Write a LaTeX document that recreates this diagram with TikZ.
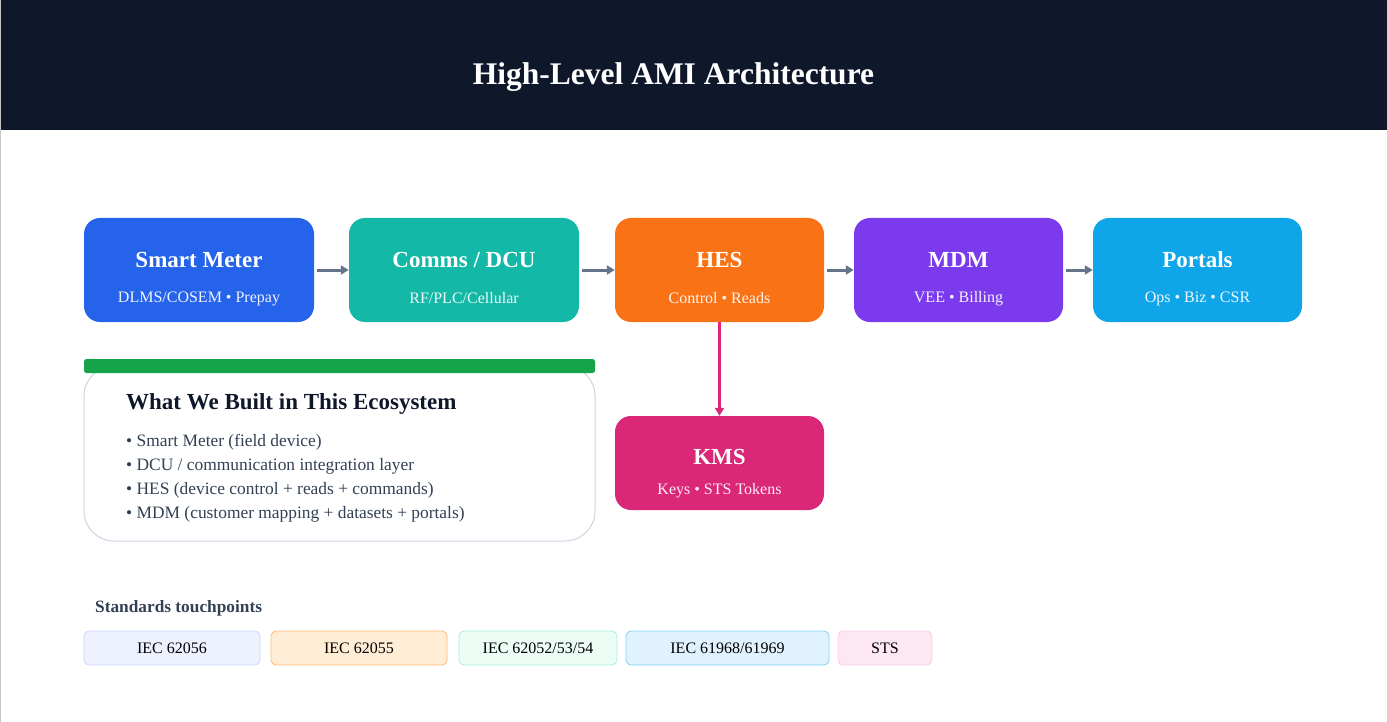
\documentclass[tikz,border=0pt]{standalone}
\usepackage{fontspec}
\setmainfont{Liberation Serif}
\usetikzlibrary{arrows.meta, positioning, calc}
\definecolor{ink}{HTML}{0F172A}
\definecolor{slatetext}{HTML}{334155}
\definecolor{slateline}{HTML}{CBD5E1}
\definecolor{flowgray}{HTML}{64748B}
\definecolor{meterblue}{HTML}{2563EB}
\definecolor{commsteal}{HTML}{14B8A6}
\definecolor{hesorange}{HTML}{F97316}
\definecolor{mdmpurple}{HTML}{7C3AED}
\definecolor{portalsky}{HTML}{0EA5E9}
\definecolor{kmspink}{HTML}{DB2777}
\definecolor{builtgreen}{HTML}{16A34A}
\definecolor{chipafill}{HTML}{EEF2FF}\definecolor{chipaline}{HTML}{C7D2FE}
\definecolor{chipbfill}{HTML}{FFEDD5}\definecolor{chipbline}{HTML}{FDBA74}
\definecolor{chipcfill}{HTML}{ECFDF5}\definecolor{chipcline}{HTML}{A7F3D0}
\definecolor{chipdfill}{HTML}{E0F2FE}\definecolor{chipdline}{HTML}{7DD3FC}
\definecolor{chipefill}{HTML}{FCE7F3}\definecolor{chipeline}{HTML}{FBCFE8}
\tikzset{
  card/.style={rounded corners=16pt, minimum height=104pt, inner sep=0pt},
  cardtitle/.style={text=white, font=\fontsize{23}{27}\selectfont\bfseries},
  cardsub/.style={text=white, text opacity=0.92, font=\fontsize{16}{19}\selectfont},
  flow/.style={flowgray, line width=3pt, shorten <=3pt, -{Triangle[length=8pt, width=9pt]}},
  chip/.style={rounded corners=5pt, minimum height=34pt, inner sep=0pt, line width=0.8pt,
    font=\fontsize{16}{19}\selectfont},
}
\begin{document}
\begin{tikzpicture}[x=1pt, y=-1pt]
  \useasboundingbox (0,0) rectangle (1387,722);
  \fill[ink] (1,0) rectangle (1387,130);
  \draw[gray!45, line width=1pt] (0.5,0) -- (0.5,722);
  \node[text=white, font=\fontsize{31.5}{37}\selectfont\bfseries] (title) at (673.5,77)
    {High-Level AMI Architecture};

  \foreach \n/\x/\w/\c/\t/\s in {
    meter/199/230/meterblue/{Smart Meter}/{DLMS/COSEM • Prepay},
    comms/464/230/commsteal/{Comms / DCU}/{RF/PLC/Cellular},
    hes/719.5/209/hesorange/{HES}/{Control • Reads},
    mdm/958.5/209/mdmpurple/{MDM}/{VEE • Billing},
    portals/1197.5/209/portalsky/{Portals}/{Ops • Biz • CSR}
  } {
    \node[card, fill=\c, minimum width=\w pt] (\n) at (\x,270) {};
    \node[cardtitle] (\n title) at (\x,260) {\t};
    \node[cardsub] (\n sub) at (\x,298.5) {\s};
  }
  \node[card, fill=kmspink, minimum width=209pt, minimum height=94pt] (kms) at (719.5,463) {};
  \node[cardtitle] (kms title) at (719.5,457) {KMS};
  \node[cardsub] (kms sub) at (719.5,490.5) {Keys • STS Tokens};

  \foreach \a/\b in {meter/comms, comms/hes, hes/mdm, mdm/portals}
    \draw[flow] (\a) -- (\b);
  \draw[kmspink, line width=2.5pt, -{Triangle[length=8pt, width=9pt]}] (hes) -- (kms);

  \node[draw=slateline, line width=1pt, fill=white, rounded corners=30pt,
    minimum width=511pt, minimum height=175pt] (built) at (339.5,453.5) {};
  \node[fill=builtgreen, rounded corners=2.5pt, minimum width=511pt, minimum height=14pt,
    inner sep=0pt] (builtbar) at (339.5,366) {};
  \node[anchor=west, text=ink, font=\fontsize{23}{27}\selectfont\bfseries, inner sep=0pt]
    (builttitle) at (126,404.5) {What We Built in This Ecosystem};
  \foreach \i/\t in {
    0/{Smart Meter (field device)},
    1/{DCU / communication integration layer},
    2/{HES (device control + reads + commands)},
    3/{MDM (customer mapping + datasets + portals)}
  } {
    \pgfmathsetmacro{\y}{442+\i*24}
    \node[anchor=west, text=slatetext, font=\fontsize{17.4}{20}\selectfont, inner sep=0pt]
      (item\i) at (126,\y) {• \t};
  }

  \node[anchor=west, text=slatetext, font=\fontsize{17.3}{20}\selectfont\bfseries, inner sep=0pt]
    (stdhead) at (95,608) {Standards touchpoints};
  \foreach \n/\x/\w/\t in {
    chipa/172/176/{IEC 62056},
    chipb/359/176/{IEC 62055},
    chipc/538/158/{IEC 62052/53/54},
    chipd/727.5/203/{IEC 61968/61969},
    chipe/885/94/{STS}
  } {
    \node[chip, fill=\n fill, draw=\n line, minimum width=\w pt, text depth=0pt]
      (\n) at (\x,648) {\t};
  }
\end{tikzpicture}
\end{document}
